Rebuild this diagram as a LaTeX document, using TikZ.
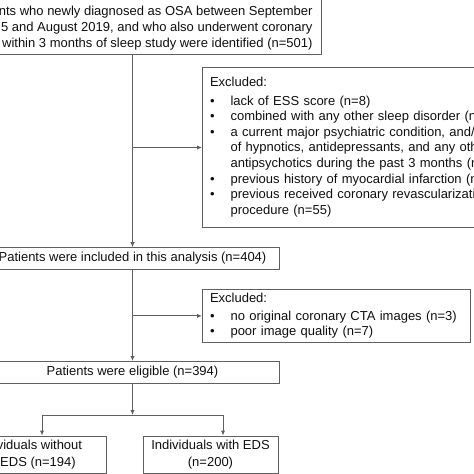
\documentclass[tikz,border=0pt]{standalone}
\usepackage{fontspec}
\setmainfont{Liberation Sans}
\usetikzlibrary{arrows.meta,calc,positioning}
\definecolor{linegray}{RGB}{95,95,95}
\definecolor{textgray}{RGB}{15,15,15}

\begin{document}
\begin{tikzpicture}[
    x=1pt, y=-1pt,
    every node/.style={font=\fontsize{13}{15.6}\selectfont, text=textgray},
    box/.style={draw=linegray, line width=1pt, inner sep=0pt, align=center},
    exclbox/.style={draw=linegray, line width=1pt, inner xsep=7.5pt, inner ysep=0pt, anchor=north west, align=left},
    line/.style={draw=linegray, line width=1pt},
    arrow/.style={line, -{Latex[length=5pt,width=4.5pt]}}
]
    \path[use as bounding box, clip] (0,0) rectangle (474,474);

    % Level 0
    \node[box, anchor=south east, align=right, inner xsep=9pt, inner ysep=4.3pt,
          font=\fontsize{13}{16}\selectfont] (ident) at (322,54.5)
        {\rule{0pt}{15pt}nts who newly diagnosed as OSA between September\\
         5 and August 2019, and who also underwent coronary\\
         within 3 months of sleep study were identified (n=501)};

    % Exclusion 1
    \node[exclbox, text width=330pt, minimum height=160.6pt] (excl1) at (202,66.7)
        {\begin{tabular}{@{}l@{\hspace{16pt}}l@{}}
         \multicolumn{2}{@{}l@{}}{Excluded:}\\[2.5pt]
         \textbullet & lack of ESS score (n=8)\\
         \textbullet & combined with any other sleep disorder (n=\\
         \textbullet & a current major psychiatric condition, and/o\\
                     & of hypnotics, antidepressants, and any othe\\
                     & antipsychotics during the past 3 months (n=\\
         \textbullet & previous history of myocardial infarction (n=\\
         \textbullet & previous received coronary revascularizatio\\
                     & procedure (n=55)
         \end{tabular}};

    % Level 1
    \node[box, minimum width=293pt, minimum height=21.8pt] (included) at (132.5,258.6)
        {Patients were included in this analysis (n=404)};

    % Exclusion 2
    \node[exclbox, text width=253pt, minimum height=52.2pt] (excl2) at (202,289.3)
        {\begin{tabular}{@{}l@{\hspace{16pt}}l@{}}
         \multicolumn{2}{@{}l@{}}{Excluded:}\\[2.5pt]
         \textbullet & no original coronary CTA images (n=3)\\
         \textbullet & poor image quality (n=7)
         \end{tabular}};

    % Level 2
    \node[box, minimum width=293pt, minimum height=21.8pt] (eligible) at (132.5,372.4)
        {Patients were eligible (n=394)};

    % Level 3
    \node[box, minimum width=136pt, minimum height=37pt, font=\fontsize{13}{16.5}\selectfont] (noeds) at (38,454.5)
        {ividuals without\\EDS (n=194)};
    \node[box, minimum width=135pt, minimum height=37pt, font=\fontsize{13}{16.5}\selectfont] (eds) at (210.5,454.5)
        {Individuals with EDS\\(n=200)};

    % Arrows
    \coordinate (split) at (132.5,415);
    \coordinate (splitL) at (42,415);
    \coordinate (splitR) at (223,415);
    \draw[arrow] (ident.south -| included.north) -- (included.north);
    \draw[arrow] (included.north |- excl1.west) -- (excl1.west);
    \draw[arrow] (included.south) -- (eligible.north);
    \draw[arrow] (included.south |- excl2.west) -- (excl2.west);
    \draw[arrow] (eligible.south) -- (split);
    \draw[line] (splitL) -- (splitR);
    \draw[arrow] (splitL) -- (splitL |- noeds.north);
    \draw[arrow] (splitR) -- (splitR |- eds.north);
\end{tikzpicture}
\end{document}
